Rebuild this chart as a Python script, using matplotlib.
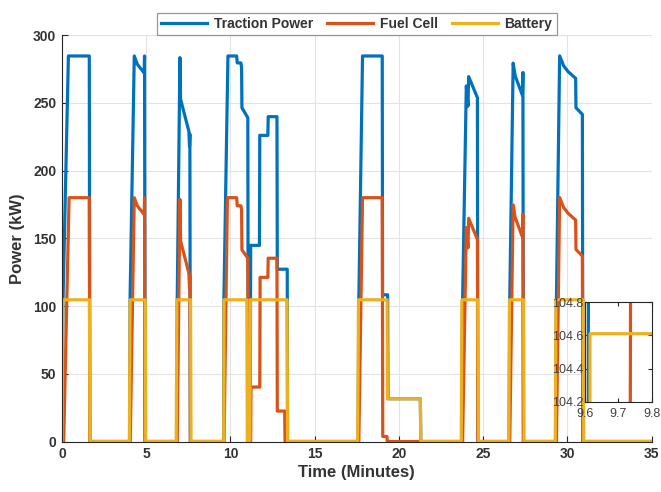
import matplotlib
matplotlib.use("Agg")
import matplotlib.pyplot as plt

# ------------------------------------------------------------
# Power split over the drive cycle (time in minutes, power in kW)
# ------------------------------------------------------------
traction_t = [
    0.0, 0.06, 0.38, 1.62, 1.65,
    4.01, 4.04, 4.29, 4.47, 4.88, 4.90, 4.93,
    6.80, 6.84, 7.00, 7.04, 7.53, 7.57, 7.59, 7.62,
    9.59, 9.61, 9.85, 10.37, 10.40, 10.62, 10.66, 10.68, 11.03, 11.06,
    11.17, 11.20, 11.72, 11.74, 12.22, 12.24, 12.76, 12.78, 13.37, 13.39,
    17.58, 17.62, 17.84, 19.01, 19.03, 19.33, 19.35, 21.27, 21.30,
    23.72, 23.78, 24.00, 24.10, 24.14, 24.66, 24.68,
    26.54, 26.58, 26.78, 26.90, 27.33, 27.36, 27.39,
    29.30, 29.35, 29.54, 29.78, 30.04, 30.49, 30.51, 30.89, 30.92, 35.0,
]
traction_kw = [
    0, 104.61, 284.6, 284.6, 0,
    0, 104.61, 284.6, 278.5, 272.0, 284.6, 0,
    0, 104.61, 283.4, 252.6, 229.0, 218.0, 227.0, 0,
    0, 104.61, 284.6, 284.6, 279.5, 279.5, 276.0, 246.4, 239.0, 0,
    0, 144.8, 144.8, 226.0, 226.0, 239.8, 239.8, 127.2, 127.2, 0,
    0, 104.61, 284.6, 284.6, 108.3, 108.3, 31.6, 31.6, 0,
    0, 104.61, 262.5, 247.6, 269.4, 253.8, 0,
    0, 104.61, 279.3, 270.0, 255.6, 272.4, 0,
    0, 104.61, 284.7, 277.3, 273.1, 268.1, 246.4, 241.5, 0, 0,
]

fuel_cell_t = [
    0.0, 0.10, 0.42, 1.62, 1.65,
    4.05, 4.29, 4.47, 4.88, 4.90, 4.93,
    6.84, 7.00, 7.04, 7.53, 7.57, 7.59, 7.62,
    9.62, 9.82, 10.37, 10.40, 10.62, 10.66, 10.68, 11.03, 11.06,
    11.20, 11.22, 11.74, 11.76, 12.22, 12.24, 12.76, 12.78, 13.22, 13.24,
    17.62, 17.84, 19.01, 19.04, 19.29, 19.31,
    23.78, 24.00, 24.10, 24.14, 24.66, 24.68,
    26.58, 26.78, 26.90, 27.33, 27.36, 27.39,
    29.35, 29.54, 29.78, 30.04, 30.49, 30.51, 30.89, 30.92, 35.0,
]
fuel_cell_kw = [
    0, 0, 180.0, 180.0, 0,
    0, 180.0, 174.0, 167.5, 180.0, 0,
    0, 178.8, 148.0, 124.4, 113.4, 122.4, 0,
    0, 180.0, 180.0, 174.0, 174.0, 171.0, 141.5, 135.3, 0,
    0, 40.2, 40.2, 121.2, 121.2, 135.3, 135.3, 22.5, 22.5, 0,
    0, 180.0, 180.0, 3.7, 3.7, 0,
    0, 157.9, 143.0, 164.8, 149.2, 0,
    0, 174.7, 165.4, 151.0, 167.8, 0,
    0, 180.1, 172.7, 168.5, 163.5, 141.8, 136.9, 0, 0,
]

battery_t = [
    0.0, 0.05, 1.63, 1.66,
    4.00, 4.04, 4.94, 4.97,
    6.78, 6.82, 7.63, 7.66,
    9.60, 9.615, 10.97, 11.00, 11.15, 11.18, 13.36, 13.39,
    17.55, 17.60, 19.30, 19.32, 21.27, 21.30,
    23.70, 23.74, 24.68, 24.72,
    26.52, 26.56, 27.40, 27.43,
    29.28, 29.32, 30.94, 30.97, 35.0,
]
battery_kw = [
    0, 104.61, 104.61, 0,
    0, 104.61, 104.61, 0,
    0, 104.61, 104.61, 0,
    0, 104.61, 104.61, 0, 0, 104.61, 104.61, 0,
    0, 104.61, 104.61, 31.6, 31.6, 0,
    0, 104.61, 104.61, 0,
    0, 104.61, 104.61, 0,
    0, 104.61, 104.61, 0, 0,
]

X_TICKS = [0, 5, 10, 15, 20, 25, 30, 35]
Y_TICKS = [0, 50, 100, 150, 200, 250, 300]
ZOOM_X_TICKS = [9.6, 9.7, 9.8]
ZOOM_Y_TICKS = [104.2, 104.4, 104.6, 104.8]

BLUE = "#0072BD"
ORANGE = "#D95319"
YELLOW = "#EDB120"
TEXT = "#333333"
LW = 2.3

plt.rcParams["font.family"] = ["Liberation Sans", "DejaVu Sans"]
plt.rcParams["font.weight"] = "bold"


def draw_series(ax):
    ax.plot(traction_t, traction_kw, color=BLUE, lw=LW, label="Traction Power")
    ax.plot(fuel_cell_t, fuel_cell_kw, color=ORANGE, lw=LW, label="Fuel Cell")
    ax.plot(battery_t, battery_kw, color=YELLOW, lw=LW, label="Battery")


fig = plt.figure(figsize=(6.61, 4.92), dpi=100)
ax = fig.add_axes([0.0938, 0.1026, 0.892, 0.826])

draw_series(ax)

ax.set_xlim(0, 35)
ax.set_ylim(0, 300)
ax.set_xticks(X_TICKS)
ax.set_yticks(Y_TICKS)
ax.grid(True, color="#e3e3e3", lw=0.8)
ax.set_axisbelow(True)
for side in ("top", "right"):
    ax.spines[side].set_visible(False)
for side in ("left", "bottom"):
    ax.spines[side].set_color("#262626")
    ax.spines[side].set_linewidth(0.8)
ax.tick_params(direction="in", length=4, width=0.8, color="#262626",
               labelsize=10, labelcolor=TEXT, pad=4)

ax.set_xlabel("Time (Minutes)", fontsize=12, fontweight="bold", color=TEXT,
              labelpad=3)
ax.set_ylabel("Power (kW)", fontsize=12, fontweight="bold", color=TEXT,
              labelpad=6)

leg = ax.legend(ncol=3, loc="lower center", bbox_to_anchor=(0.5, 1.0),
                borderaxespad=0, fontsize=10, frameon=True, fancybox=False,
                edgecolor="#7f7f7f", handlelength=3.3, handletextpad=0.5,
                columnspacing=1.0, borderpad=0.3)
leg.get_frame().set_linewidth(0.9)
for txt in leg.get_texts():
    txt.set_color(TEXT)

# zoomed view of the battery step near t = 9.6 min
axins = fig.add_axes([0.885, 0.183, 0.101, 0.203])
draw_series(axins)
axins.set_xlim(9.6, 9.8)
axins.set_ylim(104.2, 104.8)
axins.set_xticks(ZOOM_X_TICKS)
axins.set_yticks(ZOOM_Y_TICKS)
axins.set_xticklabels([f"{v:.1f}" for v in ZOOM_X_TICKS])
axins.set_yticklabels([f"{v:.1f}" for v in ZOOM_Y_TICKS])
axins.tick_params(direction="in", length=3, width=0.8, color="#262626",
                  labelsize=9, labelcolor="#404040", top=True, right=True)
axins.tick_params(axis="x", pad=4)
axins.tick_params(axis="y", pad=1)
for lbl in axins.get_xticklabels() + axins.get_yticklabels():
    lbl.set_fontweight("normal")
for sp in axins.spines.values():
    sp.set_color("#262626")
    sp.set_linewidth(0.8)

fig.savefig("out.png", dpi=100)
